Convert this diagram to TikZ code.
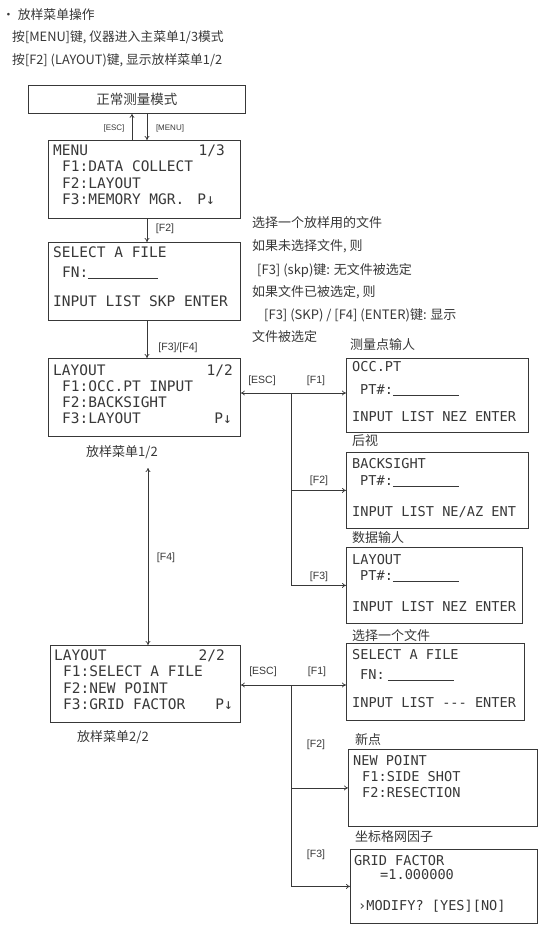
\documentclass[tikz,border=0pt]{standalone}
\usepackage{fontspec}
\newfontfamily\cjk{Noto Sans CJK SC}
\newfontfamily\lcd{DejaVu Sans Mono}
\newfontfamily\labf{Liberation Sans}
\usetikzlibrary{arrows.meta}
\definecolor{ink}{HTML}{383838}
\newcommand\scrtxt[5][mid west]{\node[lcd,anchor=#1] (#2) at (#3) {#4#5};}
\begin{document}
\begin{tikzpicture}[x=1pt,y=-1pt,
  box/.style={draw=ink,line width=0.8pt,anchor=north west,inner sep=0pt},
  lcd/.style={font=\lcd\fontsize{13.6}{16}\selectfont,text=ink,inner sep=0pt},
  cjkH/.style={font=\cjk\fontsize{12.8}{14}\selectfont,text=ink,inner sep=0pt,anchor=west},
  cjkC/.style={font=\cjk\fontsize{13}{15}\selectfont,text=ink,inner sep=0pt},
  lab/.style={font=\labf\fontsize{10.5}{12}\selectfont,text=ink,inner sep=0pt},
  labs/.style={font=\labf\fontsize{8}{10}\selectfont,text=ink,inner sep=0pt},
  arr/.style={draw=ink,line width=0.7pt,-{To[length=4pt,width=5pt]}},
  dbl/.style={draw=ink,line width=0.7pt,{To[length=4pt,width=5pt]}-{To[length=4pt,width=5pt]}}
]
\fill[white] (0,0) rectangle (551,932);
\useasboundingbox (0,0) rectangle (551,932);

% header texts
\node[cjkH] (h0) at (2,15) {· 放样菜单操作};
\node[cjkH] (h1) at (12,37) {按[MENU]键, 仪器进入主菜单1/3模式};
\node[cjkH] (h2) at (12,60) {按[F2] (LAYOUT)键, 显示放样菜单1/2};

% annotation texts
\node[cjkC,anchor=west] (a1) at (252,223) {选择一个放样用的文件};
\node[cjkC,anchor=west] (a2) at (252,246) {如果未选择文件, 则};
\node[cjkC,anchor=west] (a3) at (257,270) {[F3] (skp)键: 无文件被选定};
\node[cjkC,anchor=west] (a4) at (252,292) {如果文件已被选定, 则};
\node[cjkC,anchor=west] (a5) at (264,315) {[F3] (SKP) / [F4] (ENTER)键: 显示};
\node[cjkC,anchor=west] (a6) at (252,337) {文件被选定};

% boxes
\node[box,minimum width=217pt,minimum height=28pt,font=\cjk\fontsize{13.5}{15}\selectfont,text=ink] (norm) at (28,85) {正常测量模式};
\node[box,minimum width=192pt,minimum height=78pt] (menu) at (48,140) {};
\node[box,minimum width=192pt,minimum height=78pt] (sel) at (48,242) {};
\node[box,minimum width=192pt,minimum height=78pt] (lay1) at (48,358) {};
\node[box,minimum width=190pt,minimum height=77pt] (lay2) at (50,645) {};
\node[box,minimum width=182pt,minimum height=74pt] (occ) at (346,358) {};
\node[box,minimum width=182pt,minimum height=76pt] (bs) at (346,452) {};
\node[box,minimum width=176pt,minimum height=76pt] (lo) at (346,547) {};
\node[box,minimum width=178pt,minimum height=77pt] (sf) at (346,643) {};
\node[box,minimum width=189pt,minimum height=77pt] (np) at (348,749) {};
\node[box,minimum width=187pt,minimum height=74pt] (gf) at (350,849) {};

% left box texts
\begin{scope}[lcd/.append style={font=\lcd\fontsize{14.5}{16}\selectfont}]
\scrtxt{m1}{53,153}{}{MENU}
\scrtxt[mid east]{m1r}{225,153}{}{1/3}
\scrtxt{m2}{62,169}{}{F1:DATA COLLECT}
\scrtxt{m3}{62,186}{}{F2:LAYOUT}
\scrtxt{m4}{62,202}{}{F3:MEMORY MGR.}
\scrtxt[mid east]{m4r}{215,202}{}{P↓}

\scrtxt{s1}{53,255}{}{SELECT A FILE}
\scrtxt{s2}{62,275}{}{FN:\rule[-1.5pt]{70pt}{0.6pt}}
\scrtxt{s3}{53,304}{}{INPUT LIST SKP ENTER}

\scrtxt{l1}{53,373}{}{LAYOUT}
\scrtxt[mid east]{l1r}{233,373}{}{1/2}
\scrtxt{l2}{62,389}{}{F1:OCC.PT INPUT}
\scrtxt{l3}{62,405}{}{F2:BACKSIGHT}
\scrtxt{l4}{62,421}{}{F3:LAYOUT}
\scrtxt[mid east]{l4r}{232,421}{}{P↓}

\scrtxt{k1}{54,658}{}{LAYOUT}
\scrtxt[mid east]{k1r}{225,658}{}{2/2}
\scrtxt{k2}{63,674}{}{F1:SELECT A FILE}
\scrtxt{k3}{63,691}{}{F2:NEW POINT}
\scrtxt{k4}{63,707}{}{F3:GRID FACTOR}
\scrtxt[mid east]{k4r}{233,707}{}{P↓}
\end{scope}

% right box texts
\scrtxt{o1}{352,369}{}{OCC.PT}
\scrtxt{o2}{360,392}{}{PT\#:\rule[-1.5pt]{66pt}{0.6pt}}
\scrtxt{o3}{352,419}{}{INPUT LIST NEZ ENTER}

\scrtxt{b1}{352,466}{}{BACKSIGHT}
\scrtxt{b2}{360,483}{}{PT\#:\rule[-1.5pt]{66pt}{0.6pt}}
\scrtxt{b3}{352,514}{}{INPUT LIST NE/AZ ENT}

\scrtxt{y1}{352,562}{}{LAYOUT}
\scrtxt{y2}{360,578}{}{PT\#:\rule[-1.5pt]{66pt}{0.6pt}}
\scrtxt{y3}{352,609}{}{INPUT LIST NEZ ENTER}

\scrtxt{f1}{352,657}{}{SELECT A FILE}
\scrtxt{f2}{360,677}{}{FN:\hspace{3pt}\rule[-1.5pt]{66pt}{0.6pt}}
\scrtxt{f3}{352,705}{}{INPUT LIST --- ENTER}

\scrtxt{n1}{353,763}{}{NEW POINT}
\scrtxt{n2}{362,779}{}{F1:SIDE SHOT}
\scrtxt{n3}{362,795}{}{F2:RESECTION}

\scrtxt{g1}{354,863}{}{GRID FACTOR}
\scrtxt{g2}{380,877}{}{=1.000000}
\scrtxt{g3}{358,908}{}{›MODIFY? [YES][NO]}

% captions
\node[cjkC] (c1) at (122,452) {放样菜单1/2};
\node[cjkC] (c2) at (113,737) {放样菜单2/2};
\node[cjkC,anchor=west] (t1) at (350,345) {测量点输人};
\node[cjkC,anchor=west] (t2) at (352,441) {后视};
\node[cjkC,anchor=west] (t3) at (352,538) {数据输人};
\node[cjkC,anchor=west] (t4) at (352,636) {选择一个文件};
\node[cjkC,anchor=west] (t5) at (355,740) {新点};
\node[cjkC,anchor=west] (t6) at (355,837) {坐标格网因子};

% connector labels
\node[labs] (e0) at (114,128) {[ESC]};
\node[labs] (e1) at (170,128) {[MENU]};
\node[lab] (e2) at (165,229) {[F2]};
\node[lab] (e3) at (178,348) {[F3]/[F4]};
\node[lab] (e4) at (166,558) {[F4]};
\node[lab] (e5) at (262,381) {[ESC]};
\node[lab] (e6) at (316,381) {[F1]};
\node[lab] (e7) at (319,481) {[F2]};
\node[lab] (e8) at (319,577) {[F3]};
\node[lab] (e9) at (263,672) {[ESC]};
\node[lab] (e10) at (317,672) {[F1]};
\node[lab] (e11) at (316,745) {[F2]};
\node[lab] (e12) at (316,855) {[F3]};

% connectors
\coordinate (upx) at (132,126);
\coordinate (dnx) at (147,126);
\coordinate (cx) at (147,0);
\coordinate (f4top) at (148,468);
\coordinate (j1) at (291,393);
\coordinate (j2) at (291,685);
\draw[arr] (upx |- menu.north) -- (upx |- norm.south);
\draw[arr] (dnx |- norm.south) -- (dnx |- menu.north);
\draw[arr] (cx |- menu.south) -- (cx |- sel.north);
\draw[arr] (cx |- sel.south) -- (cx |- lay1.north);
\draw[dbl] (f4top) -- (f4top |- lay2.north);
\draw[dbl] (lay1.east |- j1) -- (occ.west |- j1);
\draw[arr] (j1) |- (bs.west);
\draw[arr] (j1) |- (lo.west);
\draw[dbl] (lay2.east |- j2) -- (sf.west |- j2);
\draw[arr] (j2) |- (np.west);
\draw[arr] (j2) |- (gf.west);
\end{tikzpicture}
\end{document}
